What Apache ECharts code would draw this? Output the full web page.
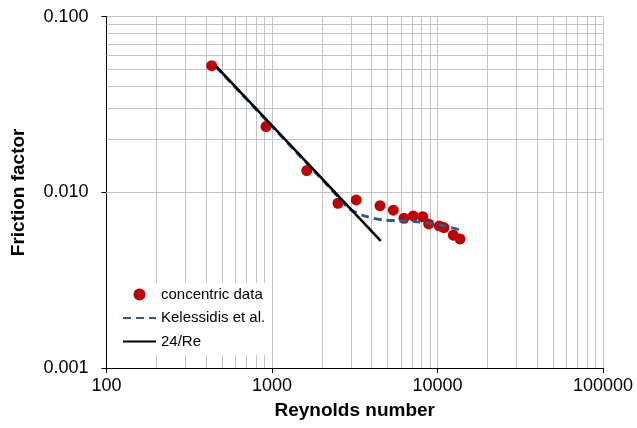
<!DOCTYPE html>
<html>
<head>
<meta charset="utf-8">
<script src="https://cdn.jsdelivr.net/npm/echarts@6/dist/echarts.min.js"></script>
<style>
  html, body { margin: 0; padding: 0; background: #fff; }
  #chart { width: 637px; height: 428px; }
</style>
</head>
<body>
<div id="chart"></div>
<script>
// measured data (Reynolds number vs friction factor)
var concentricRe = [432, 920, 1622, 2506, 3230, 4494, 5408, 6277, 7142, 8139, 8850, 10250, 10940, 12460, 13680];
var concentricF = [0.0526, 0.0237, 0.0133, 0.00867, 0.00905, 0.0084, 0.00791, 0.00712, 0.00734, 0.00727, 0.00661, 0.00644, 0.0063, 0.0057, 0.00543];

// Kelessidis et al. curve
var kelessidisRe = [460, 1000, 2000, 2600, 2960, 3735, 4705, 5935, 7486, 10350, 13680];
var kelessidisF = [0.0518, 0.0238, 0.0119, 0.0091, 0.00801, 0.00727, 0.00697, 0.0069, 0.00681, 0.00652, 0.00611];

// 24/Re line end points
var laminarRe = [460, 4540];
var laminarF = [0.0522, 0.00529];

// minor gridline positions
var minorX = [200, 300, 400, 500, 600, 700, 800, 900,
  2000, 3000, 4000, 5000, 6000, 7000, 8000, 9000,
  20000, 30000, 40000, 50000, 60000, 70000, 80000, 90000];
var minorY = [0.002, 0.003, 0.004, 0.005, 0.006, 0.007, 0.008, 0.009,
  0.02, 0.03, 0.04, 0.05, 0.06, 0.07, 0.08, 0.09];

function pairs(xs, ys) {
  return xs.map(function (x, i) { return [x, ys[i]]; });
}

var gridColor = "#c4c4c4";
var font = "Liberation Sans, Arial, sans-serif";

var minorLines = minorX.map(function (v) { return { xAxis: v }; })
  .concat(minorY.map(function (v) { return { yAxis: v }; }));

var chart = echarts.init(document.getElementById("chart"), null, { renderer: "canvas" });

var option = {
  animation: false,
  backgroundColor: "#fff",
  textStyle: { fontFamily: font },
  grid: {
    left: 106.5,
    right: 34,
    top: 16.7,
    bottom: 60,
    outerBoundsMode: "none"
  },
  legend: {
    data: [
      { name: "concentric data" },
      { name: "Kelessidis et al.", itemStyle: { opacity: 0 } },
      { name: "24/Re", itemStyle: { opacity: 0 } }
    ],
    orient: "vertical",
    left: 108,
    top: 283,
    backgroundColor: "#fff",
    padding: [4, 6, 6, 14],
    itemWidth: 33,
    itemHeight: 12,
    itemGap: 8.5,
    textStyle: { fontSize: 15, color: "#000", fontFamily: font }
  },
  xAxis: {
    type: "log",
    logBase: 10,
    min: 100,
    max: 100000,
    name: "Reynolds number",
    nameLocation: "middle",
    nameGap: 33,
    nameTextStyle: { fontSize: 19, fontWeight: "bold", color: "#000", fontFamily: font },
    axisLine: { show: true, lineStyle: { color: "#000", width: 1 } },
    axisTick: { show: true, length: 5, lineStyle: { color: "#000" } },
    axisLabel: {
      fontSize: 18,
      color: "#000",
      margin: 9,
      formatter: function (v) { return String(Math.round(v)); }
    },
    splitLine: { show: true, lineStyle: { color: gridColor, width: 1 } }
  },
  yAxis: {
    type: "log",
    logBase: 10,
    min: 0.001,
    max: 0.1,
    name: "Friction factor",
    nameLocation: "middle",
    nameGap: 78,
    nameTextStyle: { fontSize: 19, fontWeight: "bold", color: "#000", fontFamily: font },
    axisLine: { show: true, lineStyle: { color: "#000", width: 1 } },
    axisTick: { show: true, length: 5, lineStyle: { color: "#000" } },
    axisLabel: {
      fontSize: 18,
      color: "#000",
      margin: 18,
      formatter: function (v) { return v.toFixed(3); }
    },
    splitLine: { show: true, lineStyle: { color: gridColor, width: 1 } }
  },
  series: [
    {
      // only carries the minor gridlines
      name: "grid",
      type: "line",
      data: [],
      silent: true,
      markLine: {
        z: 1,
        silent: true,
        symbol: "none",
        label: { show: false },
        lineStyle: { color: gridColor, width: 1, type: "solid" },
        emphasis: { disabled: true },
        data: minorLines
      }
    },
    {
      name: "concentric data",
      type: "scatter",
      symbol: "circle",
      symbolSize: 11,
      itemStyle: { color: "#c00000", opacity: 1 },
      data: pairs(concentricRe, concentricF),
      z: 3
    },
    {
      name: "Kelessidis et al.",
      type: "line",
      symbol: "none",
      smooth: 0.3,
      lineStyle: { color: "#2a5b8c", width: 3, type: [8, 5] },
      itemStyle: { color: "#2a5b8c" },
      data: pairs(kelessidisRe, kelessidisF),
      z: 4
    },
    {
      name: "24/Re",
      type: "line",
      symbol: "none",
      lineStyle: { color: "#000", width: 2.5 },
      itemStyle: { color: "#000" },
      data: pairs(laminarRe, laminarF),
      z: 5
    }
  ]
};

chart.setOption(option);
</script>
</body>
</html>
